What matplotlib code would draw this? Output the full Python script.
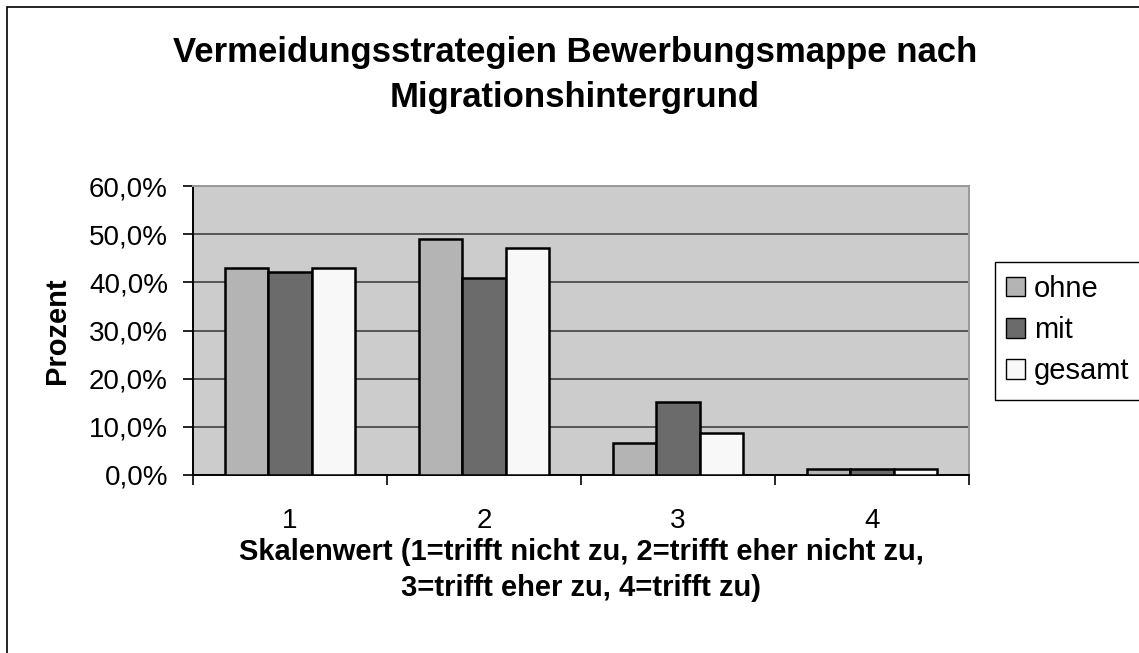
import matplotlib
matplotlib.use("Agg")
import matplotlib.pyplot as plt
import numpy as np
from matplotlib.patches import Rectangle, Patch
from matplotlib.ticker import FuncFormatter, FixedLocator

plt.rcParams['font.family'] = ['Liberation Sans', 'DejaVu Sans']

categories = ["1", "2", "3", "4"]
series_names = ["ohne", "mit", "gesamt"]
ohne = [42.9, 49.1, 6.6, 1.2]
mit = [42.2, 40.8, 15.1, 1.2]
gesamt = [42.9, 47.2, 8.7, 1.2]
colors = ["#b4b4b4", "#6b6b6b", "#f8f8f8"]
yticks = [0, 10, 20, 30, 40, 50, 60]

W, H = 1139, 653
fig = plt.figure(figsize=(W / 100, H / 100), dpi=100)
fig.patch.set_facecolor("white")

ax = fig.add_axes([193 / W, 1 - 475 / H, (969 - 193) / W, (475 - 186) / H])
ax.set_facecolor("#cccccc")

x = np.arange(len(categories))
bw = 1 / 4.5
for i, (vals, c, name) in enumerate(zip([ohne, mit, gesamt], colors, series_names)):
    ax.bar(x + (i - 1) * bw, vals, width=bw, color=c, edgecolor="black",
           linewidth=1.8, label=name, zorder=3)

ax.set_xlim(-0.5, len(categories) - 0.5)
ax.set_ylim(0, 60)
ax.set_yticks(yticks)
ax.yaxis.set_major_formatter(FuncFormatter(lambda v, p: f"{v:.1f}%".replace(".", ",")))
ax.grid(axis="y", color="#555555", linewidth=1.4, zorder=1)
ax.set_axisbelow(True)

ax.set_xticks(x)
ax.set_xticklabels(categories)
ax.xaxis.set_minor_locator(FixedLocator(np.arange(-0.5, len(categories), 1.0)))
ax.tick_params(axis="x", which="major", length=0, pad=24, labelsize=20)
ax.tick_params(axis="x", which="minor", length=7, width=1.2, direction="out")
ax.tick_params(axis="y", length=7, width=1.2, direction="out", labelsize=20, pad=11)

for s in ["left", "bottom"]:
    ax.spines[s].set_color("black")
    ax.spines[s].set_linewidth(1.4)
for s in ["top", "right"]:
    ax.spines[s].set_color("#999999")
    ax.spines[s].set_linewidth(1.4)

ax.set_ylabel("Prozent", fontsize=21, fontweight="bold", labelpad=13)
ax.set_xlabel("Skalenwert (1=trifft nicht zu, 2=trifft eher nicht zu,\n3=trifft eher zu, 4=trifft zu)",
              fontsize=21, fontweight="bold", labelpad=3, linespacing=1.35)

fig.text(575 / W, 1 - 75 / H, "Vermeidungsstrategien Bewerbungsmappe nach\nMigrationshintergrund",
         ha="center", va="center", fontsize=25, fontweight="bold", linespacing=1.45)

# legend (frame extends past the right edge, as in the reference)
fig.patches.append(Rectangle((995 / W, 1 - 400 / H), 200 / W, (400 - 262) / H,
                             transform=fig.transFigure, facecolor="white", edgecolor="black",
                             linewidth=1.0, zorder=2))
leg = fig.legend(handles=[Patch(facecolor=c, edgecolor="black", label=n) for c, n in zip(colors, series_names)],
                 loc="upper left", bbox_to_anchor=(1006 / W, 1 - 275 / H), frameon=False,
                 fontsize=21, handlelength=0.65, handleheight=0.65, handletextpad=0.3,
                 labelspacing=0.45, borderpad=0.0, borderaxespad=0)
leg.set_zorder(5)

fig.patches.append(Rectangle((7 / W, -10 / H), (W + 20) / W, (646 + 10) / H,
                             transform=fig.transFigure, fill=False, edgecolor="black", linewidth=1.2))

fig.savefig("out.png", dpi=100)
